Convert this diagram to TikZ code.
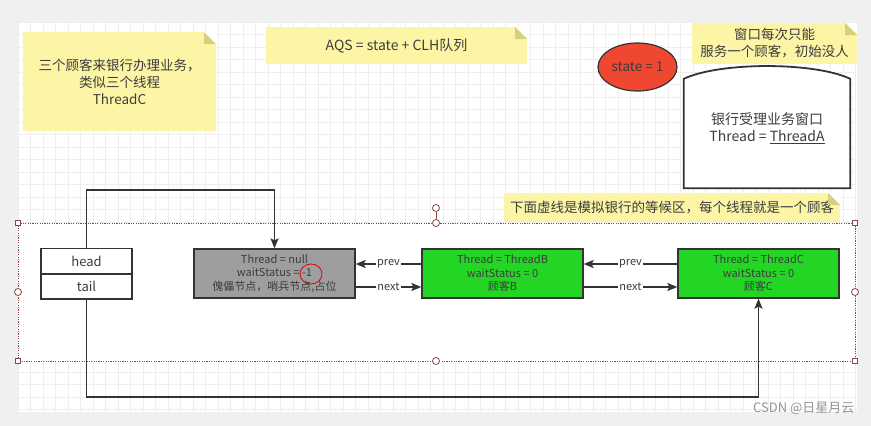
\documentclass[tikz,border=0pt]{standalone}
\usepackage{fontspec}
\setmainfont{Noto Sans CJK SC}
\usetikzlibrary{arrows.meta,shapes.geometric}
\definecolor{notey}{RGB}{252,245,165}
\definecolor{foldy}{RGB}{214,207,125}
\definecolor{nodegreen}{RGB}{36,214,36}
\definecolor{dummygray}{RGB}{158,158,158}
\definecolor{statered}{RGB}{240,72,48}
\definecolor{textgray}{RGB}{60,60,60}
\definecolor{linegray}{RGB}{51,51,51}
\definecolor{handlered}{RGB}{140,70,70}
\definecolor{outergray}{RGB}{240,240,240}
\definecolor{gridgray}{RGB}{238,238,238}
\definecolor{markgray}{RGB}{150,150,150}

\begin{document}
\begin{tikzpicture}[x=1pt,y=-1pt,
  notebox/.style={fill=notey, inner sep=0pt, outer sep=0pt, align=center, text=textgray, font=\fontsize{13.5}{17}\selectfont},
  qnode/.style={draw=linegray, line width=1.3pt, inner sep=0pt, minimum width=161pt, minimum height=49pt, align=center, text=textgray, font=\fontsize{11}{13.5}\selectfont},
  field/.style={draw=linegray, fill=white, line width=1.3pt, inner sep=0pt, minimum width=91pt, minimum height=24.5pt, text=textgray, font=\fontsize{13}{15}\selectfont},
  link/.style={draw=linegray, line width=1.6pt, -{Stealth[length=10pt,width=8pt,inset=2pt]}},
  linklabel/.style={fill=white, inner sep=1pt, text=textgray, font=\fontsize{11}{13}\selectfont},
  handlebox/.style={draw=handlered, fill=white, line width=0.8pt, minimum size=5pt, inner sep=0pt},
  handledot/.style={draw=handlered, fill=white, line width=0.8pt, circle, minimum size=7pt, inner sep=0pt}]
\useasboundingbox (0,0) rectangle (871,426);
% canvas and grid
\fill[outergray] (0,0) rectangle (871,426);
\fill[white] (18,22) rectangle (857,412);
\foreach \x in {18,30.5,...,857} \draw[gridgray, line width=0.5pt] (\x,22) -- (\x,412);
\foreach \y in {22,34.5,...,412} \draw[gridgray, line width=0.5pt] (18,\y) -- (857,\y);

% waiting area
\draw[handlered, line width=1pt, dash pattern=on 1.2pt off 1.2pt, fill=white] (18,223) rectangle (855,361);
\foreach \p [count=\i] in {{18,223},{855,223},{18,361},{855,361}}
  \node[handlebox] (hb\i) at (\p) {};
\foreach \p [count=\i] in {{436,223},{436,361},{18,292},{855,292}}
  \node[handledot] (hd\i) at (\p) {};
\node[handledot] (rot) at (436,208) {};
\draw[handlered, line width=0.8pt] (rot) -- (hd1);

% notes
\node[notebox, minimum width=193pt, minimum height=99pt] (customers) at (119.5,81.5) {三个顾客来银行办理业务，\\类似三个线程\\ThreadC};
\node[notebox, font=\fontsize{14}{17}\selectfont, minimum width=261pt, minimum height=37pt] (aqs) at (396.5,45.5) {AQS = state + CLH队列};
\node[notebox, minimum width=165pt, minimum height=41pt] (winnote) at (774.5,43.5) {窗口每次只能\\服务一个顾客，初始没人};
\node[notebox, minimum width=336pt, minimum height=29pt] (waitnote) at (672,207.5) {下面虚线是模拟银行的等候区，每个线程就是一个顾客};
\foreach \n in {customers,aqs,winnote,waitnote} {
  \fill[white] ([xshift=-12pt]\n.north east) -- (\n.north east) -- ([yshift=-12pt]\n.north east) -- cycle;
  \fill[foldy] ([xshift=-12pt]\n.north east) -- ([xshift=-12pt,yshift=-12pt]\n.north east) -- ([yshift=-12pt]\n.north east) -- cycle;
}

% state and bank window
\node[draw=linegray, fill=statered, ellipse, line width=1.2pt, minimum width=79pt, minimum height=48pt, inner sep=0pt, text=textgray, font=\fontsize{13.5}{16}\selectfont] (state) at (637.5,67) {state = 1};
\node[minimum width=166pt, minimum height=109pt, inner sep=0pt] (bankwin) at (767,133.5) {};
\draw[linegray, line width=1.8pt, fill=white] (bankwin.north west) .. controls +(36,-17) and +(-36,-17) .. (bankwin.north east) -- (bankwin.south east) -- (bankwin.south west) -- cycle;
\node[align=center, text=textgray, font=\fontsize{14}{17}\selectfont] (wintext) at (767,128) {银行受理业务窗口\\Thread = \underline{ThreadA}};

% queue
\node[field] (head) at (86.5,261) {head};
\node[field, anchor=north] (tail) at (head.south) {tail};
\node[qnode, fill=dummygray] (dummy) at (274.5,273.5) {Thread = null\\waitStatus = -1\\傀儡节点，哨兵节点,占位};
\node[qnode, fill=nodegreen] (nodeb) at (502.5,273.5) {Thread = ThreadB\\waitStatus = 0\\顾客B};
\node[qnode, fill=nodegreen] (nodec) at (758.5,273.5) {Thread = ThreadC\\waitStatus = 0\\顾客C};
\node[draw=red!85!black, ellipse, line width=0.8pt, minimum width=22pt, minimum height=20pt, inner sep=0pt] (mark) at (311,274) {};

\draw[link] ([yshift=9.5pt]nodeb.west) -- node[linklabel] (prevb) {prev} ([yshift=9.5pt]dummy.east);
\draw[link] ([yshift=-13.5pt]dummy.east) -- node[linklabel] (nextd) {next} ([yshift=-13.5pt]nodeb.west);
\draw[link] ([yshift=9.5pt]nodec.west) -- node[linklabel] (prevc) {prev} ([yshift=9.5pt]nodeb.east);
\draw[link] ([yshift=-13.5pt]nodeb.east) -- node[linklabel] (nextb) {next} ([yshift=-13.5pt]nodec.west);
\draw[link] (head.north) -- ++(0,-58) -| (dummy.north);
\draw[link] (tail.south) -- ++(0,97) -| (nodec.south);

\node[anchor=east, text=markgray, font=\fontsize{13}{15}\selectfont] (csdn) at (858,408) {CSDN @日星月云};
\end{tikzpicture}
\end{document}
